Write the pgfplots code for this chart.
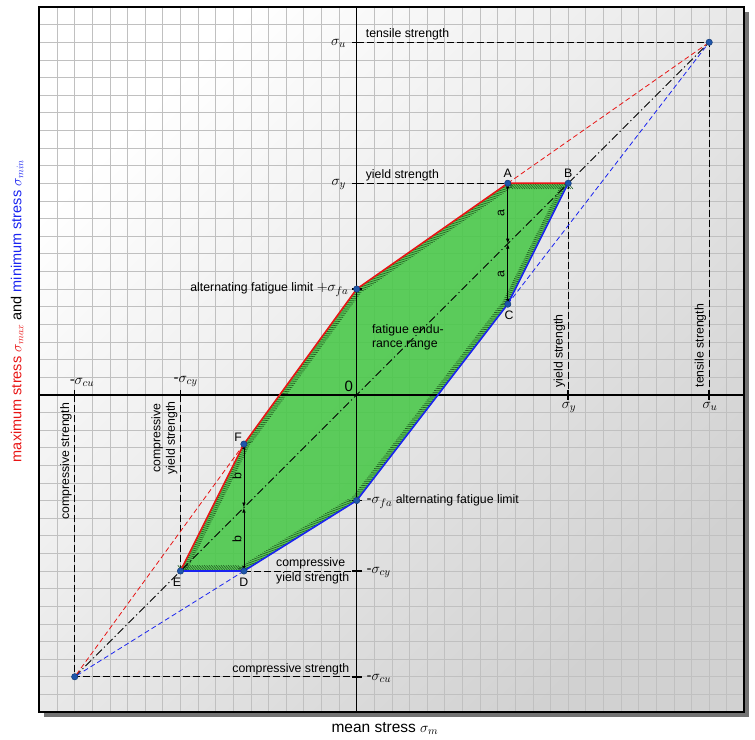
\documentclass[border=0pt]{standalone}
\usepackage{pgfplots}
\pgfplotsset{compat=1.18}
\usepackage{fontspec}
\setmainfont{Liberation Sans}
\usetikzlibrary{decorations.pathreplacing,shadows,arrows.meta}
\definecolor{myred}{RGB}{232,20,20}
\definecolor{myblue}{RGB}{25,35,240}
\definecolor{mygreen}{RGB}{72,200,72}
\definecolor{hatch}{RGB}{35,95,35}
\definecolor{dotblue}{RGB}{30,85,170}
\definecolor{gridc}{RGB}{192,192,192}
\newcommand\lab{\fontsize{12.3bp}{14.5bp}\selectfont}
\newcommand\sig{\fontsize{15bp}{17bp}\selectfont}
\begin{document}
\begin{tikzpicture}
\begin{axis}[
  x=17.63bp, y=17.63bp,
  xmin=-18, xmax=22, ymin=-18, ymax=22,
  xtick={-18,...,22}, ytick={-18,...,22},
  xticklabels={}, yticklabels={},
  major tick length=0pt,
  grid=major,
  grid style={gridc, line width=0.7bp},
  axis line style={black, line width=2bp},
  axis background/.style={top color=white, bottom color=black!18, shading angle=45,
     drop shadow={shadow xshift=5bp, shadow yshift=-5bp, fill=black!55, opacity=1}},
  clip=false,
]
% guide dashed lines
\addplot[black, line width=0.9bp, dash pattern=on 7bp off 3bp] coordinates {(0,20) (20,20) (20,0)};
\addplot[black, line width=0.9bp, dash pattern=on 7bp off 3bp] coordinates {(0,12) (12,12) (12,0)};
\addplot[black, line width=0.9bp, dash pattern=on 7bp off 3bp] coordinates {(-16,0) (-16,-16) (0,-16)};
\addplot[black, line width=0.9bp, dash pattern=on 7bp off 3bp] coordinates {(-10,0) (-10,-10) (0,-10)};
% green region
\addplot[fill=mygreen, fill opacity=0.88, draw=none] coordinates {(12,12) (8.571,12) (0,6) (-6.4,-2.8) (-10,-10) (-6.4,-10) (0,-6) (8.571,5.143)} -- cycle;
\addplot[hatch, line width=0.6bp, decorate,
  decoration={border, segment length=2.4bp, amplitude=7.5bp, angle=130}]
  coordinates {(12,12) (8.571,12) (0,6) (-6.4,-2.8) (-10,-10) (-6.4,-10) (0,-6) (8.571,5.143) (12,12)};
% axis lines through origin
\addplot[black, line width=1.5bp] coordinates {(-18,0) (22,0)};
\addplot[black, line width=1.5bp] coordinates {(0,-18) (0,22)};
\addplot[only marks, mark=|, mark size=5bp, mark options={line width=1.5bp}] coordinates {(-16,0) (-10,0) (12,0) (20,0)};
\addplot[only marks, mark=-, mark size=5bp, mark options={line width=1.5bp}] coordinates {(0,20) (0,12) (0,6) (0,-6) (0,-10) (0,-16)};
% mean line
\addplot[black, line width=0.8bp, dash pattern=on 8bp off 3bp on 1.2bp off 3bp] coordinates {(-16,-16) (20,20)};
% dashed extensions
\addplot[myred, line width=0.8bp, dash pattern=on 5bp off 3bp] coordinates {(8.571,12) (20,20)};
\addplot[myred, line width=0.8bp, dash pattern=on 5bp off 3bp] coordinates {(-6.4,-2.8) (-16,-16)};
\addplot[myblue, line width=0.8bp, dash pattern=on 5bp off 3bp] coordinates {(8.571,5.143) (20,20)};
\addplot[myblue, line width=0.8bp, dash pattern=on 5bp off 3bp] coordinates {(-6.4,-10) (-16,-16)};
% boundary lines
\addplot[myred, line width=1.6bp] coordinates {(12,12) (8.571,12) (0,6) (-6.4,-2.8) (-10,-10)};
\addplot[myblue, line width=1.6bp] coordinates {(-10,-10) (-6.4,-10) (0,-6) (8.571,5.143) (12,12)};
% dimension arrows
\addplot[black, line width=0.8bp, {Latex[length=5bp,width=3.5bp]}-{Latex[length=5bp,width=3.5bp]}] coordinates {(8.571,12) (8.571,8.571)};
\addplot[black, line width=0.8bp, {Latex[length=5bp,width=3.5bp]}-{Latex[length=5bp,width=3.5bp]}] coordinates {(8.571,8.571) (8.571,5.143)};
\addplot[black, line width=0.8bp, {Latex[length=5bp,width=3.5bp]}-{Latex[length=5bp,width=3.5bp]}] coordinates {(-6.4,-2.8) (-6.4,-6.4)};
\addplot[black, line width=0.8bp, {Latex[length=5bp,width=3.5bp]}-{Latex[length=5bp,width=3.5bp]}] coordinates {(-6.4,-6.4) (-6.4,-10)};
% points
\addplot[only marks, mark=*, mark size=3.2bp, mark options={fill=dotblue, draw=dotblue!70!black, line width=0.5bp}]
  coordinates {(20,20) (12,12) (8.571,12) (8.571,5.143) (0,6) (0,-6) (-6.4,-2.8) (-6.4,-10) (-10,-10) (-16,-16)};

% labels
\node[anchor=south west, font=\lab, inner sep=1bp] at (axis cs:0.45,20.05) {tensile strength};
\node[anchor=south west, font=\lab, inner sep=1bp] at (axis cs:0.45,12.05) {yield strength};
\node[anchor=east, font=\sig, inner sep=1bp] at (axis cs:-0.55,19.95) {$\sigma_u$};
\node[anchor=east, font=\sig, inner sep=1bp] at (axis cs:-0.55,11.95) {$\sigma_y$};
\node[anchor=east, font=\lab, inner sep=1bp] at (axis cs:-0.4,5.95) {alternating fatigue limit {\sig$+\sigma_{fa}$}};
\node[anchor=south east, font=\fontsize{15bp}{17bp}\selectfont, inner sep=1bp] at (axis cs:-0.15,0.1) {0};
\node[anchor=south west, font=\sig, inner sep=1bp] at (axis cs:-16.35,0.4) {-$\sigma_{cu}$};
\node[anchor=south west, font=\sig, inner sep=1bp] at (axis cs:-10.45,0.4) {-$\sigma_{cy}$};
\node[anchor=north, font=\sig, inner sep=1bp] at (axis cs:12.05,-0.35) {$\sigma_y$};
\node[anchor=north, font=\sig, inner sep=1bp] at (axis cs:20.05,-0.35) {$\sigma_u$};
\node[rotate=90, anchor=south west, font=\lab, inner sep=1bp] at (axis cs:11.9,0.35) {yield strength};
\node[rotate=90, anchor=south west, font=\lab, inner sep=1bp] at (axis cs:19.9,0.35) {tensile strength};
\node[rotate=90, anchor=south east, font=\lab, inner sep=1bp] at (axis cs:-16.1,-0.4) {compressive strength};
\node[rotate=90, anchor=south east, font=\lab, inner sep=1bp, align=center] at (axis cs:-10.1,-0.3) {compressive\\yield strength};
\node[anchor=north west, font=\lab, inner sep=1bp, align=left] at (axis cs:0.8,4.05) {fatigue endu-\\rance range};
\node[anchor=west, font=\lab, inner sep=1bp] at (axis cs:0.5,-6.05) {{\sig-$\sigma_{fa}$} alternating fatigue limit};
\node[anchor=east, font=\lab, inner sep=1bp, align=left] at (axis cs:-0.35,-10) {compressive\\yield strength};
\node[anchor=west, font=\sig, inner sep=1bp] at (axis cs:0.5,-10.1) {-$\sigma_{cy}$};
\node[anchor=south east, font=\lab, inner sep=1bp] at (axis cs:-0.35,-15.95) {compressive strength};
\node[anchor=west, font=\sig, inner sep=1bp] at (axis cs:0.5,-16.1) {-$\sigma_{cu}$};
% point letters
\node[anchor=south, font=\lab, inner sep=1bp] at (axis cs:8.571,12.25) {A};
\node[anchor=south, font=\lab, inner sep=1bp] at (axis cs:12,12.25) {B};
\node[anchor=north, font=\lab, inner sep=1bp] at (axis cs:8.65,4.85) {C};
\node[anchor=north, font=\lab, inner sep=1bp] at (axis cs:-6.4,-10.35) {D};
\node[anchor=north, font=\lab, inner sep=1bp] at (axis cs:-10.2,-10.35) {E};
\node[anchor=south east, font=\lab, inner sep=1bp] at (axis cs:-6.45,-2.7) {F};
\node[rotate=90, font=\lab, inner sep=1bp] at (axis cs:8.2,10.3) {a};
\node[rotate=90, font=\lab, inner sep=1bp] at (axis cs:8.2,6.85) {a};
\node[rotate=90, font=\lab, inner sep=1bp] at (axis cs:-6.8,-4.6) {b};
\node[rotate=90, font=\lab, inner sep=1bp] at (axis cs:-6.8,-8.2) {b};
% axis titles
\node[font=\fontsize{15.5bp}{18bp}\selectfont] at (axis cs:1.6,-18.95) {mean stress $\sigma_m$};
\node[rotate=90, font=\fontsize{14.5bp}{17bp}\selectfont] at (axis cs:-19.27,4.75) {{\color{myred}maximum stress $\sigma_{max}$} and {\color{myblue}minimum stress $\sigma_{min}$}};
\coordinate (bbsw) at (axis cs:-20.24,-19.55);
\coordinate (bbne) at (axis cs:22.6,22.4);
\end{axis}
\pgfresetboundingbox
\path (bbsw) rectangle (bbne);
\end{tikzpicture}
\end{document}
